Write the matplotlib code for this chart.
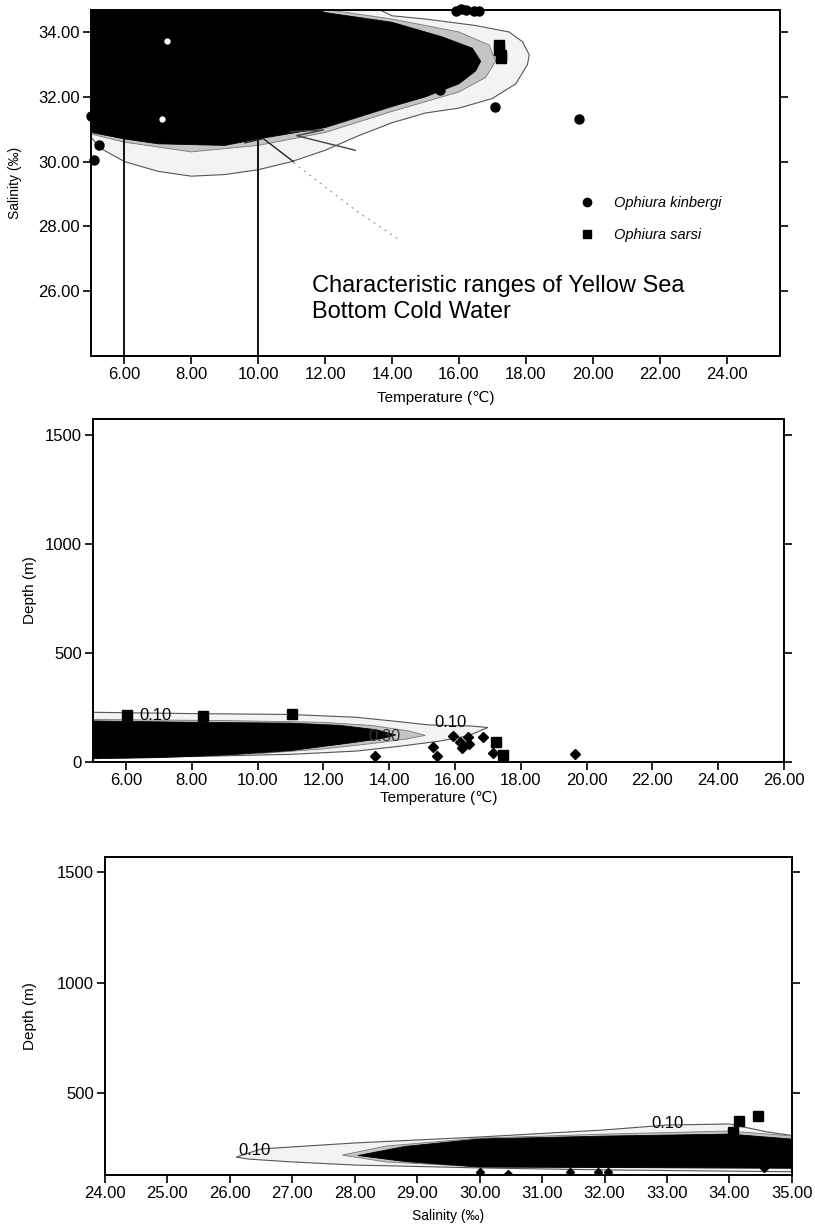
import numpy as np
import matplotlib
matplotlib.use("Agg")
import matplotlib.pyplot as plt
from matplotlib.lines import Line2D

plt.rcParams['font.family'] = ['Liberation Sans', 'DejaVu Sans']

# ---------------- panel 1 : temperature / salinity ----------------
ts_outer_t = [5.0, 5.3, 6.0, 7.0, 8.0, 9.0, 10.0, 11.0, 12.0, 13.0, 14.0, 15.0, 16.0, 17.0, 17.7, 18.05, 18.1, 17.9, 17.5, 16.5, 15.0, 14.0, 13.0, 5.0]
ts_outer_s = [30.75, 30.4, 30.0, 29.7, 29.55, 29.6, 29.75, 30.0, 30.35, 30.8, 31.2, 31.5, 31.65, 31.95, 32.4, 33.0, 33.3, 33.7, 34.0, 34.2, 34.4, 34.5, 35.0, 35.0]
ts_mid_t = [5.0, 6.0, 8.0, 10.0, 12.0, 14.0, 15.0, 16.0, 16.8, 17.1, 16.9, 16.0, 14.0, 12.0, 11.0, 5.0]
ts_mid_s = [30.85, 30.6, 30.3, 30.5, 30.9, 31.55, 31.85, 32.15, 32.6, 33.1, 33.6, 34.0, 34.4, 34.7, 35.0, 35.0]
ts_core_t = [5.0, 6.0, 7.0, 9.0, 10.0, 12.0, 14.0, 15.0, 16.0, 16.5, 16.65, 16.4, 15.5, 14.0, 12.0, 11.0, 5.0]
ts_core_s = [30.9, 30.7, 30.55, 30.5, 30.7, 31.05, 31.7, 32.0, 32.4, 32.8, 33.1, 33.5, 33.85, 34.3, 34.6, 35.0, 35.0]

# Yellow Sea Bottom Cold Water range marks
ybcw_t = [6.0, 10.0]
ybcw_s_top = [30.8, 31.35]
zig_a_t = [9.6, 10.15, 11.05]
zig_a_s = [30.58, 30.71, 30.0]
zig_b_t = [10.95, 11.95, 11.15, 12.9]
zig_b_s = [30.92, 30.98, 30.8, 30.35]
faint_t = [11.05, 13.0, 14.2]
faint_s = [29.97, 28.43, 27.6]

kin_ts_t = [5.0, 5.1, 5.25, 15.9, 16.05, 16.2, 16.45, 16.6, 15.42, 17.07, 19.6]
kin_ts_s = [31.42, 30.05, 30.5, 34.66, 34.7, 34.68, 34.64, 34.65, 32.2, 31.7, 31.3]
kin_ts_white_t = [7.28, 7.13]
kin_ts_white_s = [33.72, 31.32]
sar_ts_t = [17.2, 17.2, 17.25, 17.25]
sar_ts_s = [33.6, 33.45, 33.3, 33.2]

# ---------------- panel 2 : temperature / depth ----------------
td_outer_t = [5.0, 8.0, 11.0, 13.0, 14.3, 15.2, 16.5, 17.0, 16.4, 15.5, 14.2, 13.0, 11.0, 8.0, 5.0]
td_outer_d = [228, 222, 218, 205, 185, 170, 165, 158, 120, 95, 70, 50, 35, 25, 20]
td_mid_t = [5.0, 9.0, 12.0, 13.5, 14.6, 15.1, 14.5, 13.5, 12.0, 10.0, 7.0, 5.0]
td_mid_d = [195, 190, 182, 167, 142, 122, 105, 85, 60, 38, 25, 18]
td_core_t = [5.0, 8.0, 11.0, 12.5, 13.6, 14.2, 13.8, 12.7, 11.0, 9.0, 7.0, 5.0]
td_core_d = [188, 182, 178, 168, 148, 124, 108, 85, 52, 32, 20, 15]
td_labels = [(6.9, 215, "0.10"), (15.85, 180, "0.10"), (13.85, 118, "0.30")]

kin_td_t = [13.57, 15.33, 15.45, 15.94, 16.15, 16.2, 16.4, 16.43, 16.85, 17.16, 19.65]
kin_td_d = [27, 69, 27, 119, 92, 64, 115, 83, 115, 41, 37]
sar_td_t = [6.03, 8.34, 11.05, 17.25, 17.46]
sar_td_d = [216, 212, 220, 92, 32]

# ---------------- panel 3 : salinity / depth ----------------
sd_outer_s = [26.1, 26.5, 28.0, 30.0, 32.0, 33.0, 34.0, 34.6, 35.2, 35.2, 32.0, 30.0, 28.0, 27.0, 26.3]
sd_outer_d = [210, 247, 274, 301, 333, 355, 360, 324, 300, 143, 152, 161, 174, 188, 201]
sd_mid_s = [27.8, 28.5, 30.0, 32.0, 34.0, 35.2, 35.2, 30.0, 28.5]
sd_mid_d = [219, 260, 296, 314, 328, 301, 158, 166, 188]
sd_core_s = [28.05, 28.8, 30.0, 32.0, 34.0, 35.2, 35.2, 32.0, 30.0, 28.8]
sd_core_d = [217, 258, 292, 305, 314, 287, 160, 163, 165, 190]
sd_labels = [(26.4, 242, "0.10"), (33.0, 364, "0.10")]

kin_sd_s = [30.0, 30.45, 31.45, 31.9, 32.05, 34.55, 34.7, 34.85, 34.95]
kin_sd_d = [143, 132, 143, 143, 143, 160, 190, 220, 250]
sar_sd_s = [34.15, 34.45, 34.05]
sar_sd_d = [373, 396, 324]

fig = plt.figure(figsize=(8.15, 12.31), dpi=100)

def frame(ax):
    for sp in ax.spines.values():
        sp.set_linewidth(1.4)
    ax.tick_params(direction='out', length=6, width=1.2, labelsize=12,
                   right=True, top=False, pad=2)

def blob(ax, xs_o, ys_o, xs_m, ys_m, xs_c, ys_c):
    ax.fill(xs_o, ys_o, facecolor='#f3f3f3', edgecolor='#555555', lw=0.8, zorder=1)
    ax.fill(xs_m, ys_m, facecolor='#c4c4c4', edgecolor='#777777', lw=0.6, zorder=2)
    ax.fill(xs_c, ys_c, facecolor='black', edgecolor='black', lw=0.6, zorder=3)

# panel 1
ax1 = fig.add_axes([0.1117, 0.7108, 0.8454, 0.2811])
blob(ax1, ts_outer_t, ts_outer_s, ts_mid_t, ts_mid_s, ts_core_t, ts_core_s)
for t, s in zip(ybcw_t, ybcw_s_top):
    ax1.plot([t, t], [24, s], color='black', lw=1.3, zorder=4)
ax1.plot(zig_a_t, zig_a_s, color='#222222', lw=1.0, zorder=4)
ax1.plot(zig_b_t, zig_b_s, color='#444444', lw=1.0, zorder=4)
ax1.plot(faint_t, faint_s, color='#999999', lw=0.8, ls=(0, (2, 4)), zorder=1)
ax1.plot(kin_ts_t, kin_ts_s, 'o', color='black', ms=6.5, zorder=5, clip_on=False)
ax1.plot(kin_ts_white_t, kin_ts_white_s, 'o', color='white', ms=3.5, zorder=5)
ax1.plot(sar_ts_t, sar_ts_s, 's', color='black', ms=6.5, zorder=5)
ax1.set_xlim(5, 25.6)
ax1.set_ylim(24.0, 34.68)
ax1.set_xticks(np.arange(6, 25, 2))
ax1.set_yticks(np.arange(26, 35, 2))
ax1.xaxis.set_major_formatter(matplotlib.ticker.FormatStrFormatter('%.2f'))
ax1.yaxis.set_major_formatter(matplotlib.ticker.FormatStrFormatter('%.2f'))
frame(ax1)
ax1.set_xlabel('Temperature (\u2103)', fontsize=11, labelpad=6)
ax1.set_ylabel('Salinity (\u2030)', fontsize=10, labelpad=12)
handles = [Line2D([], [], marker='o', ls='none', color='black', ms=6),
           Line2D([], [], marker='s', ls='none', color='black', ms=6)]
ax1.legend(handles, ['Ophiura kinbergi', 'Ophiura sarsi'], loc='upper left',
           bbox_to_anchor=(0.68, 0.50), frameon=False, handletextpad=0.8,
           labelspacing=1.2, prop={'style': 'italic', 'size': 10.5})
ax1.text(0.321, 0.235, 'Characteristic ranges of Yellow Sea\nBottom Cold Water',
         transform=ax1.transAxes, fontsize=17, va='top', ha='left', linespacing=1.25)

# panel 2
ax2 = fig.add_axes([0.1141, 0.3810, 0.8479, 0.2786])
blob(ax2, td_outer_t, td_outer_d, td_mid_t, td_mid_d, td_core_t, td_core_d)
for x, y, s in td_labels:
    ax2.text(x, y, s, fontsize=12, ha='center', va='center', zorder=6,
             color='#333333' if s == '0.30' else 'black')
ax2.plot(kin_td_t, kin_td_d, 'D', color='black', ms=5, zorder=5)
ax2.plot(sar_td_t, sar_td_d, 's', color='black', ms=7, zorder=5)
ax2.set_xlim(5, 26)
ax2.set_ylim(0, 1573)
ax2.set_xticks(np.arange(6, 27, 2))
ax2.set_yticks([0, 500, 1000, 1500])
ax2.xaxis.set_major_formatter(matplotlib.ticker.FormatStrFormatter('%.2f'))
frame(ax2)
ax2.set_xlabel('Temperature (\u2103)', fontsize=11, labelpad=2)
ax2.set_ylabel('Depth (m)', fontsize=11, labelpad=6)

# panel 3
ax3 = fig.add_axes([0.1288, 0.0455, 0.8429, 0.2583])
blob(ax3, sd_outer_s, sd_outer_d, sd_mid_s, sd_mid_d, sd_core_s, sd_core_d)
for x, y, s in sd_labels:
    ax3.text(x, y, s, fontsize=12, ha='center', va='center', zorder=6)
ax3.plot(kin_sd_s, kin_sd_d, 'D', color='black', ms=4.5, zorder=5)
ax3.plot(sar_sd_s, sar_sd_d, 's', color='black', ms=7, zorder=5)
ax3.set_xlim(24, 35)
ax3.set_ylim(129, 1568)
ax3.set_xticks(np.arange(24, 36, 1))
ax3.set_yticks([500, 1000, 1500])
ax3.xaxis.set_major_formatter(matplotlib.ticker.FormatStrFormatter('%.2f'))
frame(ax3)
ax3.set_xlabel('Salinity (\u2030)', fontsize=10, labelpad=6)
ax3.set_ylabel('Depth (m)', fontsize=11, labelpad=14)

fig.savefig('out.png', dpi=100)
